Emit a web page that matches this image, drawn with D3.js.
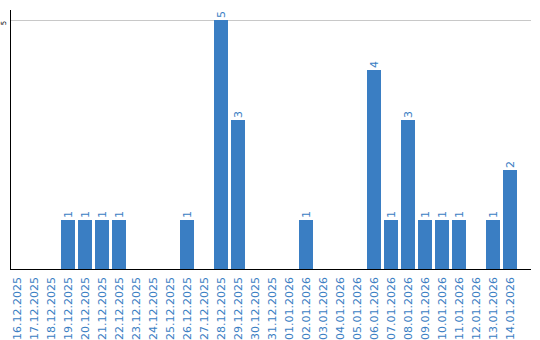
<!DOCTYPE html>
<html><head><meta charset="utf-8">
<script src="https://cdn.jsdelivr.net/npm/d3@7"></script>
<style>body{margin:0;background:#fff}svg{display:block}</style>
</head><body><svg id="c" width="540" height="340"></svg>
<script>
const dates = ["16.12.2025","17.12.2025","18.12.2025","19.12.2025","20.12.2025","21.12.2025","22.12.2025","23.12.2025","24.12.2025","25.12.2025","26.12.2025","27.12.2025","28.12.2025","29.12.2025","30.12.2025","31.12.2025","01.01.2026","02.01.2026","03.01.2026","04.01.2026","05.01.2026","06.01.2026","07.01.2026","08.01.2026","09.01.2026","10.01.2026","11.01.2026","12.01.2026","13.01.2026","14.01.2026"];
const counts = [0,0,0,1,1,1,1,0,0,0,1,0,5,3,0,0,0,1,0,0,0,4,1,3,1,1,1,0,1,2];
const yTicks = [5];

const blue = "#3a7ec3";
const svg = d3.select("#c");
const x = d3.scaleBand().domain(dates).range([10, 517]).paddingInner(3/17).paddingOuter(0);
const y = d3.scaleLinear().domain([0, 5]).range([270, 20]);

// gridline
svg.append("g").selectAll("line").data(yTicks).join("line")
  .attr("x1", 11).attr("x2", 531).attr("y1", d => y(d) + 0.5).attr("y2", d => y(d) + 0.5)
  .attr("stroke", "#c8c8c8").attr("stroke-width", 1);

// bars
svg.append("g").selectAll("rect").data(counts.map((v,i)=>({d:dates[i],v}))).join("rect")
  .filter(d => d.v > 0)
  .attr("x", d => x(d.d)).attr("width", x.bandwidth())
  .attr("y", d => y(d.v)).attr("height", d => y(0) - y(d.v))
  .attr("fill", blue);

// value labels
svg.append("g").selectAll("text").data(counts.map((v,i)=>({d:dates[i],v})).filter(d => d.v > 0)).join("text")
  .attr("transform", d => `translate(${x(d.d) + x.bandwidth()/2},${y(d.v) - 2}) rotate(-90)`)
  .attr("dy", "0.35em")
  .attr("font-family", "DejaVu Sans").attr("font-size", 11)
  .attr("fill", blue).text(d => d.v);

// axes lines
svg.append("line").attr("x1", 10.5).attr("x2", 10.5).attr("y1", 10).attr("y2", 270).attr("stroke", "#000");
svg.append("line").attr("x1", 10).attr("x2", 531).attr("y1", 269.5).attr("y2", 269.5).attr("stroke", "#000");

// y tick labels
svg.append("g").selectAll("text").data(yTicks).join("text")
  .attr("transform", d => `translate(4,${y(d) + 3}) rotate(-90)`)
  .attr("text-anchor", "middle").attr("dy", "0.35em")
  .attr("font-family", "DejaVu Sans").attr("font-size", 7).attr("fill", "#000")
  .text(d => d);

// x tick labels
svg.append("g").selectAll("text").data(dates).join("text")
  .attr("transform", d => `translate(${x(d) + x.bandwidth()/2},277) rotate(-90)`)
  .attr("text-anchor", "end").attr("dy", "0.35em")
  .attr("font-family", "DejaVu Sans").attr("font-size", 11)
  .attr("fill", blue).text(d => d);
</script></body></html>
